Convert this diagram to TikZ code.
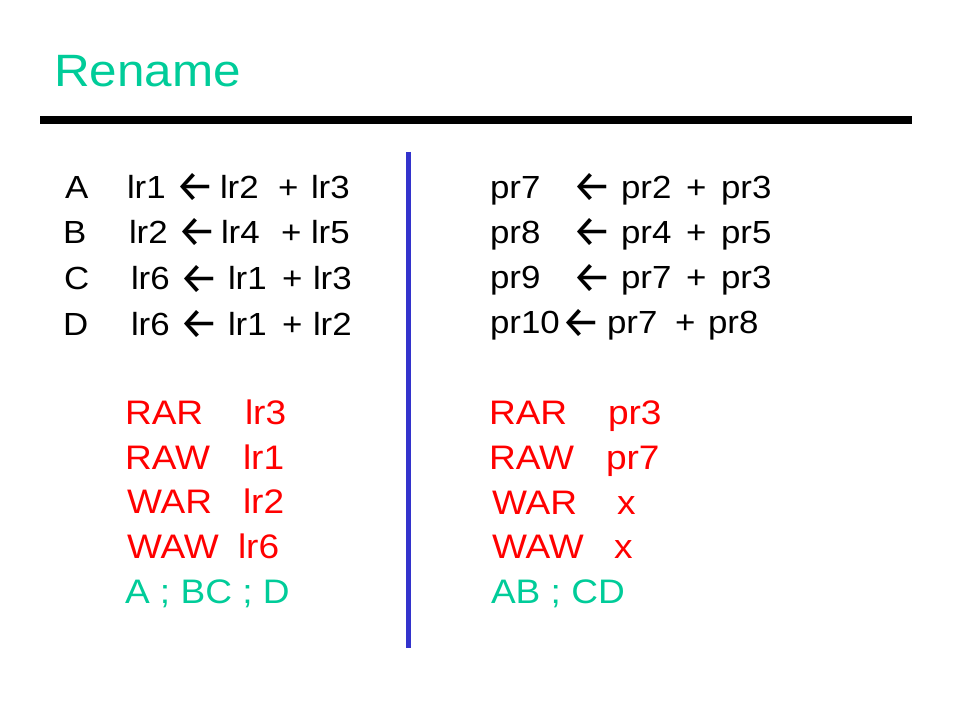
\documentclass[tikz,border=0pt]{standalone}
\usepackage{fontspec}
\setmainfont{Liberation Sans}[FakeStretch=1.09]
\newfontfamily\arrowfont{Fira Sans}
\definecolor{titlegreen}{RGB}{0,204,153}
\definecolor{depred}{RGB}{255,0,0}
\definecolor{divblue}{RGB}{51,51,204}
\newcommand\titlesize{\fontsize{34}{40}\selectfont}
\newcommand\bodysize{\fontsize{24}{28}\selectfont}
\newcommand\depsize{\fontsize{25.5}{30}\selectfont}
\newcommand\larr{{\arrowfont\fontsize{33}{33}\selectfont ←}}
\begin{document}
\begin{tikzpicture}[x=0.75pt,y=-0.75pt,
  tok/.style={anchor=base west,inner sep=0pt,outer sep=0pt,font=\bodysize,text=black},
  arr/.style={anchor=base west,inner sep=0pt,outer sep=0pt,text=black},
  dep/.style={anchor=base west,inner sep=0pt,outer sep=0pt,font=\depsize,text=depred},
  order/.style={anchor=base west,inner sep=0pt,outer sep=0pt,font=\depsize,text=titlegreen},
  heading/.style={anchor=base west,inner sep=0pt,outer sep=0pt,font=\titlesize,text=titlegreen}]
\useasboundingbox (0,0) rectangle (960,720);
\fill[white] (0,0) rectangle (960,720);
% title
\node[heading] (title) at (54,87) {Rename};
\coordinate (ruleL) at (40,120);
\coordinate (ruleR) at (912,120);
\draw[line width=6pt] (ruleL) -- (ruleR);
% divider
\coordinate (divT) at (408.5,152);
\coordinate (divB) at (408.5,648);
\draw[divblue,line width=3.4pt] (divT) -- (divB);
% left rows
\node[tok] (a0) at (65,199) {A};
\node[tok] (a1) at (127,199) {lr1};
\node[arr] (a2) at (175.5,202) {\larr};
\node[tok] (a3) at (220,199) {lr2};
\node[tok] (a4) at (278,199) {+};
\node[tok] (a5) at (311,199) {lr3};
\node[tok] (b0) at (63,244) {B};
\node[tok] (b1) at (129,244) {lr2};
\node[arr] (b2) at (177.5,247) {\larr};
\node[tok] (b3) at (221,244) {lr4};
\node[tok] (b4) at (281,244) {+};
\node[tok] (b5) at (311,244) {lr5};
\node[tok] (c0) at (64,290) {C};
\node[tok] (c1) at (131,290) {lr6};
\node[arr] (c2) at (179.5,293) {\larr};
\node[tok] (c3) at (228,290) {lr1};
\node[tok] (c4) at (282,290) {+};
\node[tok] (c5) at (313,290) {lr3};
\node[tok] (d0) at (63,335) {D};
\node[tok] (d1) at (131,335) {lr6};
\node[arr] (d2) at (179.5,338) {\larr};
\node[tok] (d3) at (228,335) {lr1};
\node[tok] (d4) at (282,335) {+};
\node[tok] (d5) at (313,335) {lr2};
% right rows
\node[tok] (p1) at (490,199) {pr7};
\node[arr] (p2) at (572,202) {\larr};
\node[tok] (p3) at (621,199) {pr2};
\node[tok] (p4) at (686,199) {+};
\node[tok] (p5) at (721,199) {pr3};
\node[tok] (q1) at (490,244) {pr8};
\node[arr] (q2) at (572,247) {\larr};
\node[tok] (q3) at (621,244) {pr4};
\node[tok] (q4) at (686,244) {+};
\node[tok] (q5) at (721,244) {pr5};
\node[tok] (r1) at (490,289) {pr9};
\node[arr] (r2) at (572,292) {\larr};
\node[tok] (r3) at (621,289) {pr7};
\node[tok] (r4) at (686,289) {+};
\node[tok] (r5) at (721,289) {pr3};
\node[tok] (s1) at (490,334) {pr10};
\node[arr] (s2) at (561,337) {\larr};
\node[tok] (s3) at (607,334) {pr7};
\node[tok] (s4) at (675,334) {+};
\node[tok] (s5) at (708,334) {pr8};
% left dependences
\node[dep] (lrar) at (125,424) {RAR};
\node[dep] (lrarv) at (245,424) {lr3};
\node[dep] (lraw) at (125,469) {RAW};
\node[dep] (lrawv) at (243,469) {lr1};
\node[dep] (lwar) at (127,513) {WAR};
\node[dep] (lwarv) at (243,513) {lr2};
\node[dep] (lwaw) at (127,558) {WAW};
\node[dep] (lwawv) at (238,558) {lr6};
\node[order] (lord) at (125,603) {A ; BC ; D};
% right dependences
\node[dep] (rrar) at (489,424) {RAR};
\node[dep] (rrarv) at (608,424) {pr3};
\node[dep] (rraw) at (489,469) {RAW};
\node[dep] (rrawv) at (606,469) {pr7};
\node[dep] (rwar) at (492,514) {WAR};
\node[dep] (rwarv) at (617,514) {x};
\node[dep] (rwaw) at (492,558) {WAW};
\node[dep] (rwawv) at (614,558) {x};
\node[order] (rord) at (491,603) {AB ; CD};
\end{tikzpicture}
\end{document}
